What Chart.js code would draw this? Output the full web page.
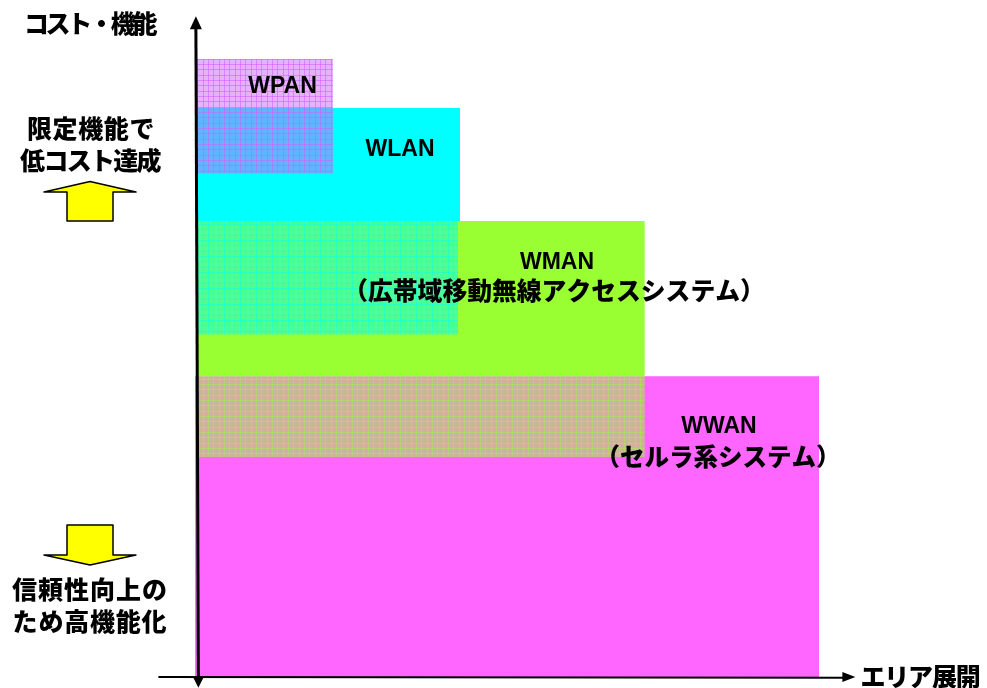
<!DOCTYPE html>
<html lang="ja">
<head>
<meta charset="utf-8">
<title>無線アクセスシステムの位置づけ</title>
<style>
  html, body { margin: 0; padding: 0; background: #fff; }
  canvas { display: block; }
</style>
<script src="https://cdn.jsdelivr.net/npm/chart.js@4"></script>
</head>
<body>
<canvas id="c" width="987" height="688"></canvas>
<script>
// Extent of each network class: coverage (x) against cost and function (y), 0-100.
const systems = ["WWAN", "WMAN", "WLAN", "WPAN"];
const solidRight = [94.1, 67.7, 39.7];
const solidTop = [45.5, 69.0, 86.1];
const solidBottom = [0, 45.5, 69.0];
const overlapRight = [67.7, 39.4, 20.45];
const overlapTop = [45.5, 69.0, 93.5];
const overlapBottom = [33.3, 51.8, 76.2];
const overlapOwner = ["WMAN", "WLAN", "WPAN"];

const xAxisLabel = "エリア展開";
const yAxisLabel = "コスト・機能";
const upperNote = ["限定機能で", "低コスト達成"];
const lowerNote = ["信頼性向上の", "ため高機能化"];
const wpanLabel = ["WPAN"];
const wlanLabel = ["WLAN"];
const wmanLabel = ["WMAN", "（広帯域移動無線アクセスシステム）"];
const wwanLabel = ["WWAN", "（セルラ系システム）"];

const SOLID = ["#FF66FF", "#99FF33", "#00FFFF"];
const TINT = ["rgba(153,255,51,0.5)", "rgba(0,255,255,0.5)", "rgba(204,102,255,0.5)"];
const MESH = ["rgba(153,255,51,0.4)", "rgba(0,255,255,0.4)", "rgba(204,102,255,0.6)"];

// Translucent fill crossed by a fine soft grid.
function meshPattern(tint, line) {
  const size = 16;
  const tile = document.createElement("canvas");
  tile.width = tile.height = size;
  const g = tile.getContext("2d");
  g.fillStyle = tint;
  g.fillRect(0, 0, size, size);
  g.fillStyle = line;
  [0, 5, 11].forEach(p => {
    g.fillRect(p, 0, 1, size);
    g.fillRect(0, p, size, 1);
  });
  return g.createPattern(tile, "repeat");
}

function band(left, right, top, bottom, fillStyle, name, order) {
  return {
    label: name,
    data: [{ x: left, y: top }, { x: right, y: top }],
    fill: { target: { value: bottom } },
    backgroundColor: fillStyle,
    borderWidth: 0,
    pointRadius: 0,
    order
  };
}

// Painted back to front: a higher order value sits further behind.
const datasets = [];
let depth = 100;
solidRight.forEach((right, i) => {
  const left = i === 0 ? -0.45 : -0.15;
  datasets.push(band(left, right, solidTop[i], solidBottom[i], SOLID[i], systems[i], depth--));
  datasets.push(band(-0.15, overlapRight[i], overlapTop[i], overlapBottom[i],
    meshPattern(TINT[i], MESH[i]), overlapOwner[i], depth--));
});

// The two axes, running just off square.
const axisLine = (pts, width) => ({
  label: "axis",
  data: pts,
  borderColor: "#000",
  borderWidth: width,
  pointRadius: 0,
  fill: false,
  clip: false,
  order: 1
});
datasets.push(axisLine([{ x: -0.32, y: 98.3 }, { x: 0.06, y: -0.6 }], 3));
datasets.push(axisLine([{ x: -6, y: 0.0 }, { x: 98, y: -0.1 }], 2));

const pointer = {
  id: "pointer",
  afterDatasetsDraw(chart) {
    const c = chart.ctx, X = chart.scales.x, Y = chart.scales.y;
    const px = v => X.getPixelForValue(v), py = v => Y.getPixelForValue(v);

    const poly = (pts, fill, stroke) => {
      c.beginPath();
      pts.forEach((p, i) => i ? c.lineTo(p[0], p[1]) : c.moveTo(p[0], p[1]));
      c.closePath();
      c.fillStyle = fill;
      c.fill();
      if (stroke) { c.lineWidth = 1.5; c.lineJoin = "round"; c.strokeStyle = stroke; c.stroke(); }
    };

    c.save();
    // Axis arrowheads.
    const ax = px(-0.32), ay = py(98.3);
    poly([[ax, ay - 11], [ax - 6, ay + 2], [ax + 6, ay + 2]], "#000");
    const bx = px(0.06), by = py(-0.1);
    poly([[bx - 5, by], [bx + 5, by], [bx, by + 10]], "#000");
    const rx = px(99.6), ry = py(0);
    poly([[rx - 13, ry - 5], [rx, ry], [rx - 13, ry + 5]], "#000");

    // Yellow direction arrows beside the vertical axis.
    poly([[90, 181.5], [136, 192], [113, 192], [113, 221], [67, 221], [67, 192], [44, 192]], "#FFFF00", "#000");
    poly([[90, 565], [136, 555], [113, 555], [113, 525], [67, 525], [67, 555], [44, 555]], "#FFFF00", "#000");

    const sans = '"Noto Sans CJK JP", sans-serif';
    const latin = '"Liberation Sans", Arial, sans-serif';
    c.fillStyle = "#000";
    c.textAlign = "center";
    c.textBaseline = "middle";
    const put = (text, x, y, size, family, spacing) => {
      c.font = "900 " + size + "px " + family;
      c.letterSpacing = (spacing || 0) + "px";
      c.fillText(text, x, y);
    };

    put(yAxisLabel, 89, 23, 25, sans, -3.3);
    put(upperNote[0], 91, 128, 25, sans, 0.6);
    put(upperNote[1], 90, 160, 25, sans, -1.7);
    put(lowerNote[0], 90, 589, 25, sans, 1);
    put(lowerNote[1], 90, 621, 25, sans, 0.8);
    put(xAxisLabel, 920, 676, 25, sans, -1.2);

    put(wpanLabel[0], 282.5, 87, 23, latin);
    put(wlanLabel[0], 400, 150, 23, latin);
    put(wmanLabel[0], 557, 263, 23, latin);
    put(wmanLabel[1], 554, 291, 24.8, sans);
    put(wwanLabel[0], 719, 427, 23, latin);
    put(wwanLabel[1], 718, 457, 24.5, sans);
    c.restore();
  }
};

new Chart(document.getElementById("c"), {
  type: "line",
  data: { datasets },
  plugins: [pointer],
  options: {
    responsive: false,
    animation: false,
    layout: { padding: { left: 184.8, right: 129, top: 16, bottom: 11 } },
    scales: {
      x: { type: "linear", min: -2, max: 100, display: false },
      y: { type: "linear", min: 0, max: 100, display: false }
    },
    plugins: { legend: { display: false }, tooltip: { enabled: false } }
  }
});
</script>
</body>
</html>
